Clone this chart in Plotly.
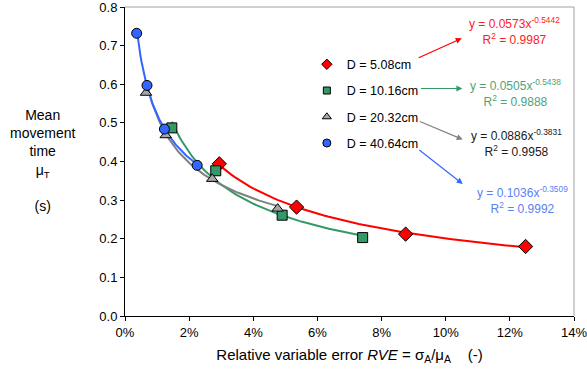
import plotly.graph_objects as go

# ---- data (RVE as fraction, mean movement time in s) ----
series_names = ["D = 5.08cm", "D = 10.16cm", "D = 20.32cm", "D = 40.64cm"]
rve_508 = [0.0294, 0.0535, 0.0875, 0.1249]
mt_508 = [0.394, 0.282, 0.212, 0.180]
rve_1016 = [0.0146, 0.0283, 0.0490, 0.0741]
mt_1016 = [0.487, 0.376, 0.261, 0.203]
rve_2032 = [0.00655, 0.0127, 0.0272, 0.0476]
mt_2032 = [0.578, 0.468, 0.355, 0.278]
rve_4064 = [0.00364, 0.00686, 0.0123, 0.0225]
mt_4064 = [0.732, 0.597, 0.484, 0.390]
# power trend-line coefficients shown on the chart: y = a * x^b
fit_a = [0.0573, 0.0505, 0.0886, 0.1036]
fit_b = [-0.5442, -0.5438, -0.3831, -0.3509]
fit_r2 = ["0.9987", "0.9888", "0.9958", "0.9992"]
x_ticks = [0, 0.02, 0.04, 0.06, 0.08, 0.10, 0.12, 0.14]
y_ticks = [0.0, 0.1, 0.2, 0.3, 0.4, 0.5, 0.6, 0.7, 0.8]

xs = [rve_508, rve_1016, rve_2032, rve_4064]
ys = [mt_508, mt_1016, mt_2032, mt_4064]
line_colors = ["#FF0000", "#339966", "#808080", "#3366FF"]
marker_colors = ["#FF0000", "#339966", "#A6A6A6", "#3366FF"]
symbols = ["diamond", "square", "triangle-up", "circle"]
text_colors = ["#FF2020", "#4DA37A", "#1A1A1A", "#5B7FF5"]
FONT = "Liberation Sans, Arial, sans-serif"

fig = go.Figure()

# trend lines
for i in range(4):
    x0, x1 = min(xs[i]), max(xs[i])
    n = 80
    tx = [x0 + (x1 - x0) * k / (n - 1) for k in range(n)]
    ty = [fit_a[i] * v ** fit_b[i] for v in tx]
    fig.add_trace(go.Scatter(x=tx, y=ty, mode="lines", showlegend=False,
                             line=dict(color=line_colors[i], width=2),
                             hoverinfo="skip"))

# markers
for i in range(4):
    fig.add_trace(go.Scatter(x=xs[i], y=ys[i], mode="markers", name=series_names[i],
                             showlegend=False,
                             marker=dict(symbol=symbols[i], size=10 if i != 0 else 11,
                                         color=marker_colors[i],
                                         line=dict(color="#000000", width=1))))

# legend-only entries (smaller symbols as in the reference legend)
for i in range(4):
    fig.add_trace(go.Scatter(x=[None], y=[None], mode="markers", name=series_names[i],
                             legendgroup=series_names[i],
                             marker=dict(symbol=symbols[i], size=8 if i != 1 else 7,
                                         color=marker_colors[i],
                                         line=dict(color="#000000", width=1))))

# equation annotations with arrows (data coords)
arrow_tail = [(0.0911, 0.667), (0.0918, 0.589), (0.0915, 0.505), (0.0913, 0.433)]
arrow_head = [(0.1050, 0.719), (0.1052, 0.589), (0.1053, 0.457), (0.1053, 0.342)]
text_pos = [(0.1216, 0.737), (0.1219, 0.578), (0.1221, 0.448), (0.1240, 0.301)]
for i in range(4):
    fig.add_annotation(x=arrow_head[i][0], y=arrow_head[i][1], ax=arrow_tail[i][0], ay=arrow_tail[i][1],
                       xref="x", yref="y", axref="x", ayref="y", text="", showarrow=True,
                       arrowhead=2, arrowsize=1, arrowwidth=1.2, arrowcolor=line_colors[i])
    fig.add_annotation(x=text_pos[i][0], y=text_pos[i][1], xref="x", yref="y", showarrow=False,
                       text="y = %.4fx<sup>%.4f</sup><br>R<sup>2</sup> = %s" % (fit_a[i], fit_b[i], fit_r2[i]),
                       font=dict(family=FONT, size=12, color=text_colors[i]), align="center")

# y-axis title
fig.add_annotation(x=(42 - 125) / 449, y=(316 - 160) / 309, xref="paper", yref="paper", showarrow=False,
                   xanchor="center", yanchor="middle",
                   text="Mean<br>movement<br>time<br>μ<sub>T</sub><br><br>(s)",
                   font=dict(family=FONT, size=14, color="#000000"), align="center")

fig.update_layout(
    width=587, height=379,
    margin=dict(l=125, r=13, t=7, b=63),
    paper_bgcolor="white", plot_bgcolor="white",
    font=dict(family=FONT, size=13, color="#000000"),
    legend=dict(x=0.405, y=0.862, xanchor="left", yanchor="top", bgcolor="rgba(0,0,0,0)",
                font=dict(family=FONT, size=12.5), traceorder="grouped", tracegroupgap=7,
                itemwidth=30),
    xaxis=dict(range=[0, 0.14], tickvals=x_ticks, tickformat=".0%", showgrid=False, zeroline=False,
               showline=True, linecolor="#000000", linewidth=1, ticks="outside", ticklen=4,
               tickcolor="#000000", ticklabeloverflow="allow", automargin=False,
               title=dict(text="Relative variable error <i>RVE</i> = σ<sub>A</sub>/μ<sub>A</sub>    (-)",
                          font=dict(family=FONT, size=15), standoff=10)),
    yaxis=dict(range=[0, 0.8], tickvals=y_ticks, tickformat=".1f", showgrid=False, zeroline=False,
               showline=True, linecolor="#000000", linewidth=1, ticks="outside", ticklen=4,
               tickcolor="#000000", ticklabeloverflow="allow", automargin=False),
    shapes=[
        dict(type="line", xref="paper", yref="paper", x0=0, x1=1, y0=1, y1=1, line=dict(color="#A0A0A0", width=1)),
        dict(type="line", xref="paper", yref="paper", x0=1, x1=1, y0=0, y1=1, line=dict(color="#A0A0A0", width=1)),
    ],
)

fig.write_html("out.html")
